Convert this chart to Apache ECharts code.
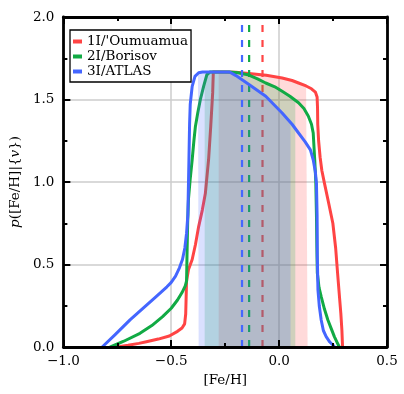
<!DOCTYPE html>
<html>
<head>
<meta charset="utf-8">
<script src="https://cdn.jsdelivr.net/npm/echarts@6/dist/echarts.min.js"></script>
<style>
  html, body { margin: 0; padding: 0; background: #fff; }
  #chart { width: 404px; height: 394px; }
</style>
</head>
<body>
<div id="chart"></div>
<script>
// object names, line colours
const names = ["1I/'Oumuamua", '2I/Borisov', '3I/ATLAS'];
const colors = ['#ff4444', '#11aa44', '#4466ff'];
const fillColors = ['rgba(255,68,68,0.2)', 'rgba(17,170,68,0.2)', 'rgba(68,102,255,0.2)'];

// p([Fe/H]|{v}) curves
const oumuamuaX = [-0.751, -0.70, -0.65, -0.615, -0.56, -0.509, -0.471, -0.45, -0.438, -0.433, -0.431, -0.429, -0.42, -0.403, -0.388, -0.373, -0.356, -0.342, -0.327, -0.317, -0.308, -0.305, -0.25, -0.20, -0.14, -0.06, 0.014, 0.06, 0.09, 0.125, 0.15, 0.168, 0.176, 0.178, 0.179, 0.183, 0.19, 0.198, 0.21, 0.23, 0.249, 0.262, 0.271, 0.28, 0.286, 0.291, 0.294];
const oumuamuaY = [0.0, 0.010, 0.022, 0.032, 0.048, 0.067, 0.095, 0.115, 0.14, 0.2, 0.3, 0.40, 0.47, 0.53, 0.62, 0.73, 0.83, 0.93, 1.135, 1.337, 1.54, 1.667, 1.667, 1.665, 1.658, 1.647, 1.63, 1.615, 1.60, 1.582, 1.565, 1.545, 1.515, 1.45, 1.35, 1.25, 1.15, 1.07, 0.993, 0.87, 0.75, 0.60, 0.447, 0.30, 0.204, 0.10, 0.0];

const borisovX = [-0.782, -0.72, -0.645, -0.59, -0.54, -0.50, -0.471, -0.45, -0.435, -0.429, -0.427, -0.424, -0.42, -0.412, -0.403, -0.395, -0.388, -0.377, -0.365, -0.35, -0.335, -0.32, -0.23, -0.19, -0.14, -0.10, -0.062, -0.02, 0.014, 0.05, 0.09, 0.115, 0.135, 0.15, 0.158, 0.165, 0.17, 0.173, 0.175, 0.177, 0.185, 0.195, 0.21, 0.226, 0.242, 0.256, 0.268, 0.279];
const borisovY = [0.0, 0.035, 0.083, 0.13, 0.184, 0.235, 0.285, 0.33, 0.37, 0.40, 0.55, 0.75, 0.9, 1.02, 1.135, 1.25, 1.337, 1.42, 1.50, 1.58, 1.65, 1.667, 1.667, 1.662, 1.648, 1.625, 1.60, 1.577, 1.55, 1.52, 1.48, 1.445, 1.40, 1.35, 1.297, 1.135, 1.00, 0.80, 0.60, 0.45, 0.36, 0.305, 0.23, 0.164, 0.11, 0.063, 0.03, 0.0];

const atlasX = [-0.82, -0.76, -0.691, -0.63, -0.57, -0.52, -0.501, -0.48, -0.462, -0.448, -0.437, -0.429, -0.423, -0.42, -0.418, -0.415, -0.412, -0.403, -0.39, -0.373, -0.355, -0.23, -0.20, -0.138, -0.062, 0.014, 0.06, 0.09, 0.12, 0.145, 0.158, 0.168, 0.173, 0.176, 0.177, 0.18, 0.186, 0.195, 0.205, 0.218, 0.235, 0.249, 0.256];
const atlasY = [0.0, 0.075, 0.164, 0.235, 0.305, 0.365, 0.39, 0.43, 0.48, 0.53, 0.6, 0.69, 0.80, 1.0, 1.135, 1.35, 1.47, 1.58, 1.64, 1.662, 1.667, 1.667, 1.645, 1.59, 1.52, 1.418, 1.35, 1.297, 1.245, 1.195, 1.135, 1.06, 0.993, 0.80, 0.548, 0.346, 0.25, 0.164, 0.10, 0.063, 0.03, 0.012, 0.0];

// credible intervals and medians
const intervalLo = [-0.28, -0.345, -0.376];
const intervalHi = [0.132, 0.075, 0.053];
const medians = [-0.077, -0.139, -0.172];
const medianTop = 1.97;

const curveX = [oumuamuaX, borisovX, atlasX];
const curveY = [oumuamuaY, borisovY, atlasY];

const fontFamily = "'DejaVu Serif', 'Liberation Serif', serif";

// part of a curve between lo and hi, ends found by linear interpolation
function clipCurve(xs, ys, lo, hi) {
  const interp = x => {
    for (let i = 1; i < xs.length; i++) {
      if (xs[i] >= x) {
        const t = (x - xs[i - 1]) / (xs[i] - xs[i - 1]);
        return ys[i - 1] + t * (ys[i] - ys[i - 1]);
      }
    }
    return 0;
  };
  const pts = [[lo, interp(lo)]];
  xs.forEach((x, i) => { if (x > lo && x < hi) pts.push([x, ys[i]]); });
  pts.push([hi, interp(hi)]);
  return pts;
}

const fmt = v => v.toFixed(1).replace('-', '\u2212');

const series = [];
names.forEach((name, k) => {
  series.push({
    name: name + ' interval',
    type: 'line',
    data: clipCurve(curveX[k], curveY[k], intervalLo[k], intervalHi[k]),
    showSymbol: false,
    silent: true,
    lineStyle: { width: 0 },
    areaStyle: { color: fillColors[k], opacity: 1 },
    z: 2 + 3 * k
  });
  series.push({
    name: name,
    type: 'line',
    data: curveX[k].map((x, i) => [x, curveY[k][i]]),
    showSymbol: false,
    color: colors[k],
    itemStyle: { color: colors[k] },
    lineStyle: { width: 3, color: colors[k], join: 'round', cap: 'round' },
    z: 3 + 3 * k
  });
  series.push({
    name: name + ' median',
    type: 'line',
    data: [[medians[k], 0], [medians[k], medianTop]],
    showSymbol: false,
    silent: true,
    lineStyle: { width: 2.2, color: colors[k], type: [7, 8] },
    z: 4 + 3 * k
  });
});

const tickCommon = {
  axisTick: { show: true, inside: true, length: 7, lineStyle: { color: '#000', width: 2 } },
  minorTick: { show: true, splitNumber: 2, length: 4, lineStyle: { color: '#000', width: 2 } },
  axisLine: { show: true, onZero: false, lineStyle: { color: '#000', width: 2.8 } }
};

const legendText = { fontFamily: fontFamily, fontSize: 13.5, lineHeight: 15, color: '#000' };

const chart = echarts.init(document.getElementById('chart'));
chart.setOption({
  animation: false,
  backgroundColor: '#fff',
  grid: { left: 57, right: 17, top: 17, bottom: 47 },
  legend: {
    data: names.map(n => ({ name: n, textStyle: legendText })),
    orient: 'vertical',
    left: 70,
    top: 30,
    padding: [4, 3, 3, 3],
    itemGap: 0,
    itemWidth: 9,
    itemHeight: 4,
    icon: 'rect',
    borderColor: '#000',
    borderWidth: 1.3,
    borderRadius: 0,
    backgroundColor: '#fff',
    z: 40,
    formatter: '{t|{name}}',
    textStyle: Object.assign({ rich: { t: legendText } }, legendText)
  },
  xAxis: [
    Object.assign({
      type: 'value', min: -1, max: 0.5, interval: 0.5, position: 'bottom', z: 30,
      splitLine: { show: false },
      axisLabel: { formatter: fmt, margin: 7, fontFamily: fontFamily, fontSize: 13.5, color: '#000' },
      name: '[Fe/H]', nameLocation: 'middle', nameGap: 26,
      nameTextStyle: { fontFamily: fontFamily, fontSize: 13.5, color: '#000' }
    }, tickCommon),
    Object.assign({
      type: 'value', min: -1, max: 0.5, interval: 0.5, position: 'top', z: 1,
      axisLabel: { show: false },
      splitLine: { show: true, lineStyle: { color: '#cccccc', width: 1.5 } }
    }, tickCommon)
  ],
  yAxis: [
    Object.assign({
      type: 'value', min: 0, max: 2, interval: 0.5, position: 'left', z: 30,
      splitLine: { show: false },
      axisLabel: { formatter: fmt, margin: 9, fontFamily: fontFamily, fontSize: 13.5, color: '#000' },
      name: '{i|p}([Fe/H]|{{i|v}})', nameLocation: 'middle', nameGap: 34,
      nameTextStyle: {
        fontFamily: fontFamily, fontSize: 13.5, color: '#000',
        rich: { i: { fontFamily: fontFamily, fontSize: 13.5, fontStyle: 'italic', color: '#000' } }
      }
    }, tickCommon),
    Object.assign({
      type: 'value', min: 0, max: 2, interval: 0.5, position: 'right', z: 1,
      axisLabel: { show: false },
      splitLine: { show: true, lineStyle: { color: '#cccccc', width: 1.5 } }
    }, tickCommon)
  ],
  series: series
});
</script>
</body>
</html>
